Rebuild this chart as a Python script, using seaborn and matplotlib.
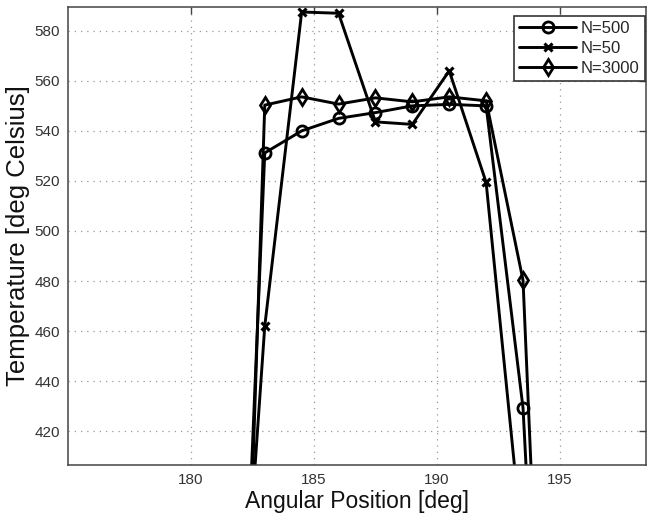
import matplotlib
matplotlib.use("Agg")
import matplotlib.pyplot as plt
import seaborn as sns
import pandas as pd

# Data
angle = [181.5, 183.0, 184.5, 186.0, 187.5, 189.0, 190.5, 192.0, 193.5, 195.0]
temp_n500 = [180, 531.2, 540.0, 545.0, 547.3, 550.0, 550.6, 550.0, 429.3, 147]
temp_n50 = [250, 462.0, 587.5, 587.0, 543.6, 542.6, 564.0, 519.4, 372.0, 150]
temp_n3000 = [100, 550.3, 553.6, 550.7, 553.2, 551.6, 553.6, 552.0, 480.3, 136]
series_labels = ["N=500", "N=50", "N=3000"]
x_ticks = [180, 185, 190, 195]
y_ticks = [420, 440, 460, 480, 500, 520, 540, 560, 580]

sns.set_style("white")
plt.rcParams["font.family"] = ["Liberation Sans", "DejaVu Sans"]

fig = plt.figure(figsize=(6.47, 5.16), dpi=100)
ax = fig.add_axes([68 / 647, 1 - 464.5 / 516, 578 / 647, 457.5 / 516])

styles = [
    dict(marker="o", markersize=8, markeredgewidth=2.0, markerfacecolor="none"),
    dict(marker="x", markersize=5.5, markeredgewidth=2.2),
    dict(marker="d", markersize=8.5, markeredgewidth=2.0, markerfacecolor="none"),
]
for vals, lab, st in zip([temp_n500, temp_n50, temp_n3000], series_labels, styles):
    df = pd.DataFrame({"angle": angle, "temp": vals})
    sns.lineplot(data=df, x="angle", y="temp", ax=ax, color="black",
                 linewidth=2.1, estimator=None, sort=False, label=lab,
                 markeredgecolor="black", **st)

ax.set_xlim(175, 198.5)
ax.set_ylim(406.7, 589.5)
ax.set_xticks(x_ticks)
ax.set_yticks(y_ticks)
ax.grid(True, linestyle=(0, (1, 4)), color="#999999", linewidth=0.9)
ax.tick_params(direction="in", length=5, width=1, top=True, right=True,
               labelsize=11, colors="#444444", labelcolor="#333333", pad=6)
for sp in ax.spines.values():
    sp.set_color("#444444")
    sp.set_linewidth(1.1)

ax.set_xlabel("Angular Position [deg]", fontsize=16.5, color="#111111", labelpad=2)
ax.set_ylabel("Temperature [deg Celsius]", fontsize=18.5, color="#111111", labelpad=3)

leg = ax.legend(loc="upper right", bbox_to_anchor=(0.998, 0.980), borderaxespad=0,
                fontsize=12, handlelength=3.4, labelspacing=0.3, handletextpad=0.3,
                borderpad=0.3, fancybox=False, framealpha=1)
leg.get_frame().set_edgecolor("#333333")
leg.get_frame().set_linewidth(1.2)

fig.savefig("out.png", dpi=100)
